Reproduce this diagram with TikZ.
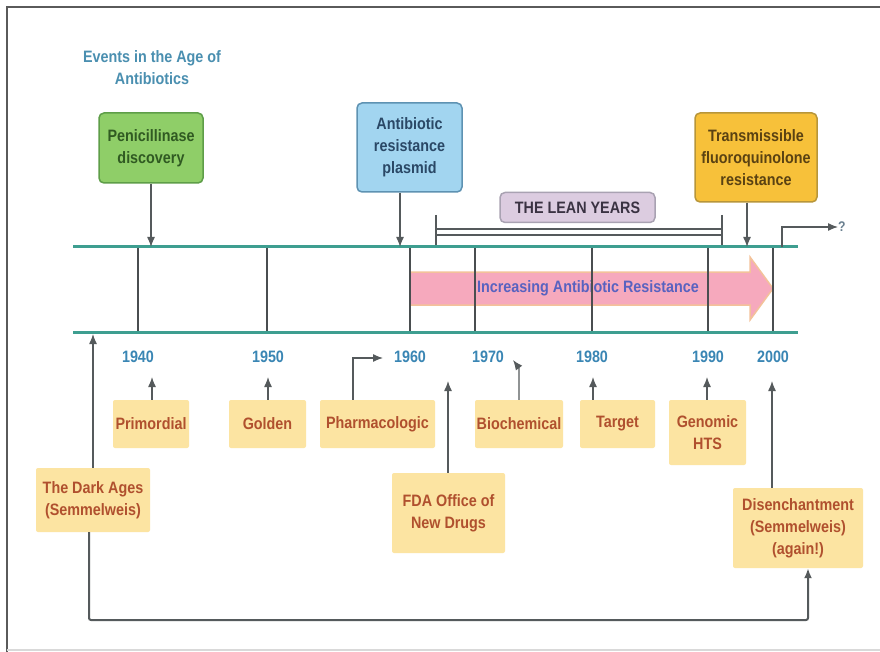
\documentclass[tikz,border=0pt]{standalone}
\usepackage{fontspec}
\setmainfont{Liberation Sans}[FakeStretch=0.87]
\usetikzlibrary{arrows.meta}
\definecolor{titleC}{HTML}{4A8FB0}
\definecolor{yrC}{HTML}{3A86B4}
\definecolor{penF}{HTML}{8FCE68}
\definecolor{penD}{HTML}{5E9E48}
\definecolor{penT}{HTML}{305A22}
\definecolor{plaF}{HTML}{A2D5F0}
\definecolor{plaD}{HTML}{5E92B2}
\definecolor{plaT}{HTML}{2A4866}
\definecolor{traF}{HTML}{F7C13A}
\definecolor{traD}{HTML}{B8963A}
\definecolor{traT}{HTML}{5A4212}
\definecolor{leaF}{HTML}{DCCCE0}
\definecolor{leaD}{HTML}{A9A2B2}
\definecolor{leaT}{HTML}{3A3242}
\definecolor{eraF}{HTML}{FCE4A2}
\definecolor{eraT}{HTML}{B0502E}
\definecolor{tlC}{HTML}{3E9E90}
\definecolor{tkC}{HTML}{4A4E50}
\definecolor{conC}{HTML}{555A5C}
\definecolor{pinkF}{HTML}{F6A9BD}
\definecolor{pinkD}{HTML}{F3C29A}
\definecolor{pinkT}{HTML}{5862C0}
\definecolor{frameC}{HTML}{5A5A5A}
\definecolor{qC}{HTML}{6A8090}
\tikzset{
  base/.style={font=\bfseries\fontsize{16.5}{22}\selectfont, align=center, inner sep=0pt},
  event/.style={base, rounded corners=5pt, line width=1.5pt},
  era/.style={base, fill=eraF, text=eraT, rounded corners=2pt},
  yr/.style={base, text=yrC},
  con/.style={draw=conC, line width=1.3pt, -{Latex[length=10pt,width=8pt]}},
  tline/.style={draw=tlC, line width=3pt},
  tickline/.style={draw=tkC, line width=2pt},
  leanbar/.style={draw=conC, line width=1.5pt},
}
\begin{document}
\begin{tikzpicture}[x=1pt,y=-1pt]
\useasboundingbox (0,0) rectangle (880,652);
\fill[white] (0,0) rectangle (880,652);
% frame
\draw[frameC, line width=2.5pt] (880,7) -- (7,7) -- (7,652);
\draw[black!15, line width=1.5pt] (7,650) -- (880,650);

% title
\node[base, text=titleC] (title) at (152,68) {Events in the Age of\\Antibiotics};

% top event boxes
\node[event, fill=penF, draw=penD, text=penT, minimum width=104pt, minimum height=70pt] (pen) at (151,148) {Penicillinase\\discovery};
\node[event, fill=plaF, draw=plaD, text=plaT, minimum width=105pt, minimum height=89pt] (pla) at (409.5,147.5) {Antibiotic\\resistance\\plasmid};
\node[event, fill=traF, draw=traD, text=traT, minimum width=122pt, minimum height=89pt] (tra) at (756,157.5) {Transmissible\\fluoroquinolone\\resistance};
\node[event, fill=leaF, draw=leaD, text=leaT, minimum width=155pt, minimum height=30pt] (lean) at (577.5,207.5) {THE LEAN YEARS};

% timeline coordinates
\coordinate (tl1) at (73,247);
\coordinate (tr1) at (798,247);
\coordinate (tl2) at (73,332);
\coordinate (tr2) at (798,332);

% pink arrow
\draw[fill=pinkF, draw=pinkD, line width=1.5pt, line join=miter]
  (410,272) -- (750,272) -- (750,257) -- (773,288.5) -- (750,320) -- (750,305) -- (410,305) -- cycle;
\node[base, text=pinkT] (incr) at (588,288) {Increasing Antibiotic Resistance};

% lean years bar
\coordinate (lnL) at (436,215);
\coordinate (lnR) at (722,215);
\draw[leanbar] (lnL) -- (lnL |- tl1);
\draw[leanbar] (lnR) -- (lnR |- tl1);
\draw[leanbar] (436,229) -- (722,229);
\draw[leanbar] (436,235) -- (722,235);

% ticks
\foreach \x in {138,267,410,475,592,708,773}
  \draw[tickline] (\x,247) -- (\x,332);

% timelines
\draw[tline] (tl1) -- (tr1);
\draw[tline] (tl2) -- (tr2);

% question arrow
\coordinate (q0) at (782,247);
\coordinate (q1) at (782,227);
\node[base, text=qC, anchor=west, font=\bfseries\fontsize{14}{18}\selectfont] (qm) at (838,227) {?};
\draw[con] (q0) -- (q1) -- (qm.west);

% arrows from top boxes
\coordinate (penA) at (151,247);
\coordinate (plaA) at (400,247);
\coordinate (traA) at (747,247);
\draw[con] (pen.south) -- (penA);
\draw[con] (pla.south -| plaA) -- (plaA);
\draw[con] (tra.south -| traA) -- (traA);

% years
\node[yr] (y40) at (138,357) {1940};
\node[yr] (y50) at (268,357) {1950};
\node[yr] (y60) at (410,357) {1960};
\node[yr] (y70) at (488,357) {1970};
\node[yr] (y80) at (592,357) {1980};
\node[yr] (y90) at (708,357) {1990};
\node[yr] (y00) at (773,357) {2000};

% era boxes
\node[era, minimum width=76pt, minimum height=48pt] (prim) at (151,424) {Primordial};
\node[era, minimum width=77pt, minimum height=48pt] (gold) at (267.5,424) {Golden};
\node[era, minimum width=115pt, minimum height=48pt] (phar) at (377.5,424) {Pharmacologic};
\node[era, minimum width=88pt, minimum height=48pt] (bioc) at (519,424) {Biochemical};
\node[era, minimum width=75pt, minimum height=48pt] (targ) at (617.5,424) {Target};
\node[era, minimum width=77pt, minimum height=65pt] (geno) at (707.5,432.5) {Genomic\\HTS};
\node[era, minimum width=114pt, minimum height=64pt] (dark) at (93,500) {The Dark Ages\\(Semmelweis)};
\node[era, minimum width=113pt, minimum height=80pt] (fda) at (448.5,513) {FDA Office of\\New Drugs};
\node[era, minimum width=130pt, minimum height=80pt] (dis) at (798,528) {Disenchantment\\(Semmelweis)\\(again!)};

% era arrows
\coordinate (primA) at (152,377);
\coordinate (goldA) at (268,377);
\coordinate (pharB) at (353,358);
\coordinate (pharA) at (383,358);
\coordinate (biocB) at (519,368);
\coordinate (biocA) at (513,360);
\coordinate (targA) at (593,377);
\coordinate (genoA) at (707,377);
\coordinate (fdaA) at (448,381);
\coordinate (disA) at (772,381);
\coordinate (darkA) at (93,334);
\draw[con] (prim.north -| primA) -- (primA);
\draw[con] (gold.north -| goldA) -- (goldA);
\draw[con] (phar.north -| pharB) -- (pharB) -- (pharA);
\draw[con] (bioc.north) -- (biocB) -- (biocA);
\draw[con] (targ.north -| targA) -- (targA);
\draw[con] (geno.north -| genoA) -- (genoA);
\draw[con] (fda.north -| fdaA) -- (fdaA);
\draw[con] (dis.north -| disA) -- (disA);
\draw[con] (dark.north) -- (darkA);

% bottom loop
\coordinate (b1) at (89,620);
\coordinate (b2) at (808,620);
\draw[con, line width=2pt, rounded corners=2pt] (dark.south -| b1) -- (b1) -- (b2) -- (b2 |- dis.south);
\end{tikzpicture}
\end{document}
